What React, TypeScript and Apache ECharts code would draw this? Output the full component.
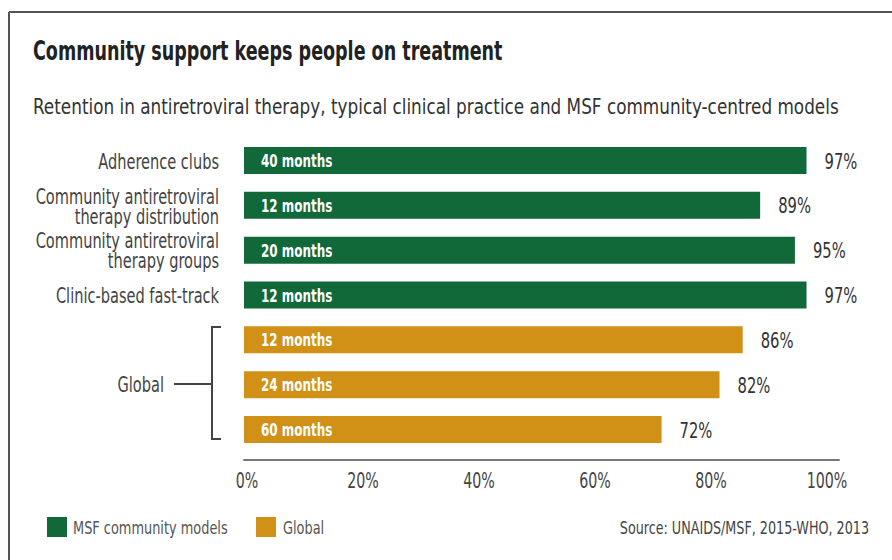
import React, { useEffect, useRef } from "react";
import * as echarts from "echarts";

const categories = [
  "Adherence clubs",
  "Community antiretroviral\ntherapy distribution",
  "Community antiretroviral\ntherapy groups",
  "Clinic-based fast-track",
  "",
  "",
  "",
];
const durations = ["40 months", "12 months", "20 months", "12 months", "12 months", "24 months", "60 months"];
const msfValues = [97, 89, 95, 97, null, null, null];
const globalValues = [null, null, null, null, 86, 82, 72];
const retention = [97, 89, 95, 97, 86, 82, 72];
const xTicks = [0, 20, 40, 60, 80, 100];
const legendNames = ["MSF community models", "Global"];

const FONT = "'DejaVu Sans Condensed', 'DejaVu Sans', sans-serif";
const GREEN = "#116838";
const GOLD = "#D19117";
const SQ = 0.79; // horizontal squeeze to mimic a condensed face

export default function App() {
  const ref = useRef<HTMLDivElement>(null);
  useEffect(() => {
    if (!ref.current) return;
    const chart = echarts.init(ref.current, null, { renderer: "svg" });
    const lastIdx = categories.length - 1;
    chart.setOption({
      animation: false,
      backgroundColor: "#fff",
      textStyle: { fontFamily: FONT },
      grid: { left: 244, width: 595, top: 138, bottom: 108, containLabel: false },
      xAxis: {
        type: "value",
        min: 0,
        max: 102.6,
        interval: 20,
        offset: 8,
        axisLine: { show: true, lineStyle: { color: "#777", width: 2 } },
        axisTick: { show: false },
        splitLine: { show: false },
        axisLabel: { show: false },
      },
      yAxis: {
        type: "category",
        data: categories,
        inverse: true,
        axisLine: { show: false },
        axisTick: { show: false },
        axisLabel: { show: false },
      },
      series: [
        {
          name: legendNames[0],
          type: "bar",
          data: msfValues,
          barWidth: 27,
          barGap: "-100%",
          z: 2,
          itemStyle: { color: GREEN },
        },
        {
          name: legendNames[1],
          type: "bar",
          data: globalValues,
          barWidth: 27,
          barGap: "-100%",
          z: 2,
          itemStyle: { color: GOLD },
        },
        {
          type: "custom",
          silent: true,
          z: 20,
          data: retention.map((v, i) => [v, i]),
          renderItem: (params: any, api: any) => {
            const i = params.dataIndex;
            const end = api.coord([retention[i], i]);
            const start = api.coord([0, i]);
            return {
              type: "group",
              children: [
                {
                  type: "text",
                  x: end[0] + 18,
                  y: end[1] + 1,
                  scaleX: 0.8,
                  z2: 10,
                  style: {
                    text: retention[i] + "%",
                    fontFamily: FONT,
                    fontSize: 20.5,
                    fill: "#333",
                    align: "left",
                    verticalAlign: "middle",
                  },
                },
                {
                  type: "text",
                  x: start[0] + 17,
                  y: start[1] + 1,
                  scaleX: 0.76,
                  z2: 10,
                  style: {
                    text: durations[i],
                    fontFamily: FONT,
                    fontWeight: "bold",
                    fontSize: 17.5,
                    fill: "#ffffff",
                    align: "left",
                    verticalAlign: "middle",
                  },
                },
                {
                  type: "text",
                  x: start[0] - 25,
                  y: start[1] + 1,
                  scaleX: SQ,
                  z2: 10,
                  style: {
                    text: categories[i],
                    fontFamily: FONT,
                    fontSize: 20.5,
                    lineHeight: 20,
                    fill: "#444",
                    align: "right",
                    verticalAlign: "middle",
                  },
                },
              ],
            };
          },
        },
        {
          type: "custom",
          silent: true,
          z: 20,
          data: xTicks.map((v) => [v, lastIdx]),
          renderItem: (params: any, api: any) => {
            const v = xTicks[params.dataIndex];
            const p = api.coord([v, lastIdx]);
            const band = api.size([0, 1])[1];
            return {
              type: "text",
              x: p[0] + 3,
              y: p[1] + band / 2 + 29,
              scaleX: 0.77,
              style: {
                text: v + "%",
                fontFamily: FONT,
                fontSize: 20.5,
                fill: "#444",
                align: "center",
                verticalAlign: "middle",
              },
            };
          },
        },
      ],
      graphic: [
        { type: "line", shape: { x1: 9, y1: 12, x2: 892, y2: 12 }, style: { stroke: "#555", lineWidth: 2 } },
        { type: "line", shape: { x1: 9, y1: 12, x2: 9, y2: 560 }, style: { stroke: "#555", lineWidth: 2 } },
        {
          type: "text",
          x: 33,
          y: 51,
          scaleX: 0.75,
          style: {
            text: "Community support keeps people on treatment",
            fontFamily: FONT,
            fontWeight: "bold",
            fontSize: 26,
            fill: "#222",
            align: "left",
            verticalAlign: "middle",
          },
        },
        {
          type: "text",
          x: 33,
          y: 107,
          scaleX: 0.914,
          style: {
            text: "Retention in antiretroviral therapy, typical clinical practice and MSF community-centred models",
            fontFamily: FONT,
            fontSize: 20.5,
            fill: "#333",
            align: "left",
            verticalAlign: "middle",
          },
        },
        {
          type: "polyline",
          shape: { points: [[221, 327], [212, 327], [212, 439], [221, 439]] },
          style: { stroke: "#444", lineWidth: 2, fill: "none" },
        },
        { type: "line", shape: { x1: 174, y1: 384, x2: 212, y2: 384 }, style: { stroke: "#444", lineWidth: 2 } },
        {
          type: "text",
          x: 164,
          y: 385,
          scaleX: SQ,
          style: { text: "Global", fontFamily: FONT, fontSize: 20.5, fill: "#444", align: "right", verticalAlign: "middle" },
        },
        { type: "rect", shape: { x: 47, y: 517, width: 20, height: 20 }, style: { fill: GREEN } },
        {
          type: "text",
          x: 73,
          y: 528,
          scaleX: 0.82,
          style: { text: legendNames[0], fontFamily: FONT, fontSize: 17.5, fill: "#555", align: "left", verticalAlign: "middle" },
        },
        { type: "rect", shape: { x: 256, y: 517, width: 20, height: 20 }, style: { fill: GOLD } },
        {
          type: "text",
          x: 283,
          y: 528,
          scaleX: 0.82,
          style: { text: legendNames[1], fontFamily: FONT, fontSize: 17.5, fill: "#555", align: "left", verticalAlign: "middle" },
        },
        {
          type: "text",
          x: 869,
          y: 528,
          scaleX: 0.81,
          style: {
            text: "Source: UNAIDS/MSF, 2015-WHO, 2013",
            fontFamily: FONT,
            fontSize: 17.5,
            fill: "#444",
            align: "right",
            verticalAlign: "middle",
          },
        },
      ],
    });
    return () => chart.dispose();
  }, []);
  return <div ref={ref} style={{ position: "fixed", left: 0, top: 0, width: 892, height: 560 }} />;
}
